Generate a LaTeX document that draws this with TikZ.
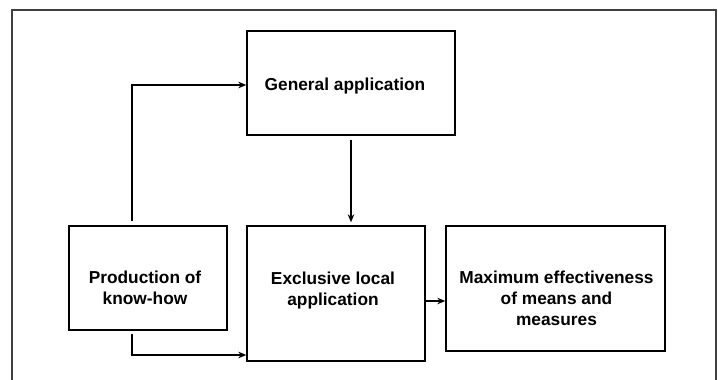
\documentclass[tikz,border=0pt]{standalone}
\usepackage{fontspec}
\setmainfont{Liberation Sans}
\usetikzlibrary{arrows.meta}

\begin{document}
\begin{tikzpicture}[x=1pt, y=-1pt,
  font=\fontsize{17.3}{21}\selectfont\bfseries,
  box/.style={draw, line width=1.4pt, inner sep=0pt},
  boxtext/.style={align=center, inner sep=0pt},
  link/.style={line width=1.1pt, -{Stealth[length=8pt, width=6.5pt]}}]
  \useasboundingbox (0,0) rectangle (718,380);

  % frame (open at the bottom)
  \draw[black!75, line width=1.2pt] (12,390) -- (12,10) -- (716,10) -- (716,390);

  % boxes, text sits a little off centre as in the scan
  \node[box, minimum width=208pt, minimum height=104pt,
    label={[boxtext, xshift=-6pt, yshift=-3pt]center:General application}] (gen) at (351,83) {};
  \node[box, minimum width=158pt, minimum height=104pt,
    label={[boxtext, xshift=-3pt, yshift=-10pt]center:Production of\\know-how}] (prod) at (148,278) {};
  \node[box, minimum width=178pt, minimum height=135pt,
    label={[boxtext, xshift=-3pt, yshift=3pt]center:Exclusive local\\application}] (excl) at (336,293.5) {};
  \node[box, minimum width=219pt, minimum height=125pt,
    label={[boxtext, xshift=1pt, yshift=-10pt]center:Maximum effectiveness\\of means and\\measures}] (maxi) at (555.5,288.5) {};

  % arrows
  \draw[link, shorten <=4pt] ([xshift=-16pt]prod.north) |- ([yshift=-2pt]gen.west);
  \draw[link, shorten <=4pt, shorten >=3pt] (gen.south) -- (gen.south |- excl.north);
  \draw[link, shorten <=3pt] ([xshift=-16pt]prod.south) |- ([yshift=-61.5pt]excl.west);
  \draw[link] ([yshift=-7.5pt]excl.east) -- ([yshift=-7.5pt]excl.east -| maxi.west);
\end{tikzpicture}
\end{document}
